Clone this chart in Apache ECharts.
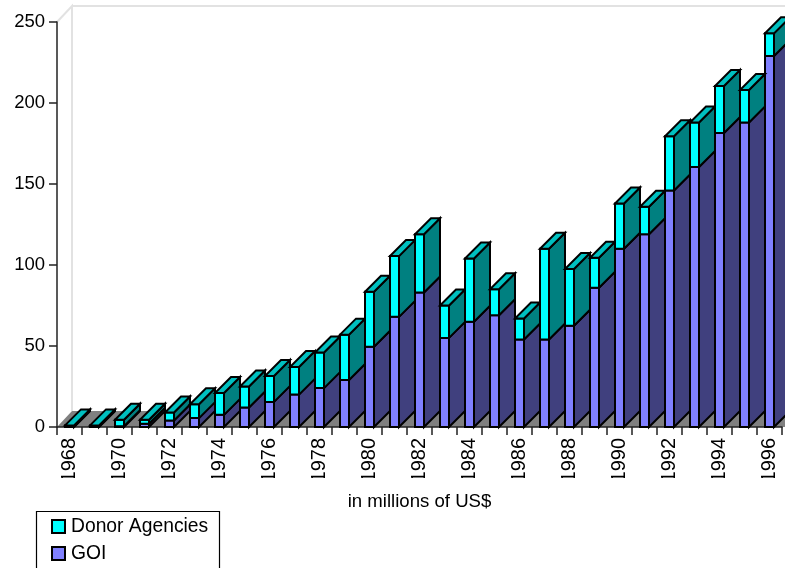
<!DOCTYPE html>
<html>
<head>
<meta charset="utf-8">
<style>html,body{margin:0;padding:0;background:#fff;overflow:hidden}#c{width:785px;height:568px}</style>
<script src="https://cdn.jsdelivr.net/npm/echarts@6/dist/echarts.min.js"></script>
</head>
<body>
<div id="c"></div>
<script>
var years = ['1968','1969','1970','1971','1972','1973','1974','1975','1976','1977','1978','1979','1980','1981','1982','1983','1984','1985','1986','1987','1988','1989','1990','1991','1992','1993','1994','1995','1996'];
var goi = [0,0,0.5,2,4,5.5,7.5,12,15.5,20,24,29,49.5,68,83,55,65,69,54,54,62.5,86,110,119,146,160.5,181.5,188,229];
var donor = [1,1,4,2.5,5,8.5,13.5,13,16,17,22,28,34,37.5,36,20,39,16,13,56,35,18.5,28,17,33.5,27.5,29,20,14];
var yTicks = {min:0,max:250,interval:50};

var DEPTH = 16, BAR = 9;
var black = '#000';
function poly(pts, fill){
  return {type:'polygon',shape:{points:pts},style:{fill:fill,stroke:black,lineWidth:2,lineJoin:'miter'}};
}
function makeRender(kind, faceFill, sideFill){
  return function(params, api){
    var low = api.value(1), high = api.value(2);
    var pLow = api.coord([api.value(0), low]);
    var pHigh = api.coord([api.value(0), high]);
    var x0 = pLow[0]-BAR/2, x1 = pLow[0]+BAR/2;
    var kids = [];
    kids.push(poly([[x1,pLow[1]],[x1+DEPTH,pLow[1]-DEPTH],[x1+DEPTH,pHigh[1]-DEPTH],[x1,pHigh[1]]],sideFill));
    kids.push(poly([[x0,pLow[1]],[x1,pLow[1]],[x1,pHigh[1]],[x0,pHigh[1]]],faceFill));
    if(kind==='top'){
      kids.push(poly([[x0,pHigh[1]],[x1,pHigh[1]],[x1+DEPTH,pHigh[1]-DEPTH],[x0+DEPTH,pHigh[1]-DEPTH]],'#00c0c0'));
    }
    return {type:'group',children:kids};
  };
}
var goiData = years.map(function(y,i){return [i,0,goi[i]];});
var donorData = years.map(function(y,i){return [i,goi[i],goi[i]+donor[i]];});
var FONT = '"Liberation Sans", Arial, sans-serif';
var chart = echarts.init(document.getElementById('c'),null,{renderer:'canvas'});
chart.setOption({
  animation:false,
  backgroundColor:'#fff',
  textStyle:{fontFamily:FONT},
  grid:{left:57,right:3,top:22,bottom:141,containLabel:false},
  xAxis:{
    type:'category',data:years,boundaryGap:true,
    name:'in millions of US$',nameLocation:'middle',nameGap:65,
    nameTextStyle:{color:'#000',fontSize:18.6,fontFamily:FONT},
    axisLine:{lineStyle:{color:'#222',width:1.5}},
    axisTick:{show:true,length:8,alignWithLabel:false,interval:0,lineStyle:{color:'#222',width:1.5}},
    axisLabel:{interval:1,rotate:90,color:'#000',fontSize:20,fontFamily:FONT,margin:11},
    splitLine:{show:false}
  },
  yAxis:{
    type:'value',min:yTicks.min,max:yTicks.max,interval:yTicks.interval,
    axisLine:{show:true,lineStyle:{color:'#222',width:1.5}},
    axisTick:{show:true,length:8,lineStyle:{color:'#222',width:1.5}},
    axisLabel:{color:'#000',fontSize:18.5,fontFamily:FONT,margin:12},
    splitLine:{show:false}
  },
  legend:{
    orient:'vertical',left:51,top:516,padding:0,itemGap:6,itemWidth:13,itemHeight:13,itemSymbolKeepAspect:true,
    icon:'rect',selectedMode:false,
    data:['Donor Agencies','GOI'],
    itemStyle:{borderColor:'#000',borderWidth:2},
    textStyle:{color:'#000',fontSize:19.3,fontFamily:FONT,padding:[0,0,0,1],lineHeight:21}
  },
  graphic:[
    {type:'polygon',z:-1,silent:true,shape:{points:[[57,427],[72,411],[800,411],[785,427]]},style:{fill:'#808080'}},
    {type:'polyline',z:-1,silent:true,shape:{points:[[57,22],[72,6],[72,411]]},style:{fill:'none',stroke:'#e2e2e2',lineWidth:2}},
    {type:'line',z:-1,silent:true,shape:{x1:72,y1:6,x2:785,y2:6},style:{stroke:'#e2e2e2',lineWidth:2}},
    {type:'rect',z:-1,silent:true,shape:{x:36.5,y:511.5,width:183,height:80},style:{fill:'#fff',stroke:'#000',lineWidth:1.2}},
    {type:'rect',z:100,silent:true,shape:{x:40,y:478,width:745,height:9},style:{fill:'#fff'}}
  ],
  series:[
    {name:'GOI',type:'custom',data:goiData,encode:{x:0,y:2},itemStyle:{color:'#8080ff'},clip:false,silent:true,
     renderItem:makeRender('low','#8080ff','#40407e')},
    {name:'Donor Agencies',type:'custom',data:donorData,encode:{x:0,y:2},itemStyle:{color:'#00ffff'},clip:false,silent:true,
     renderItem:makeRender('top','#00ffff','#008080')}
  ]
});
</script>
</body>
</html>
